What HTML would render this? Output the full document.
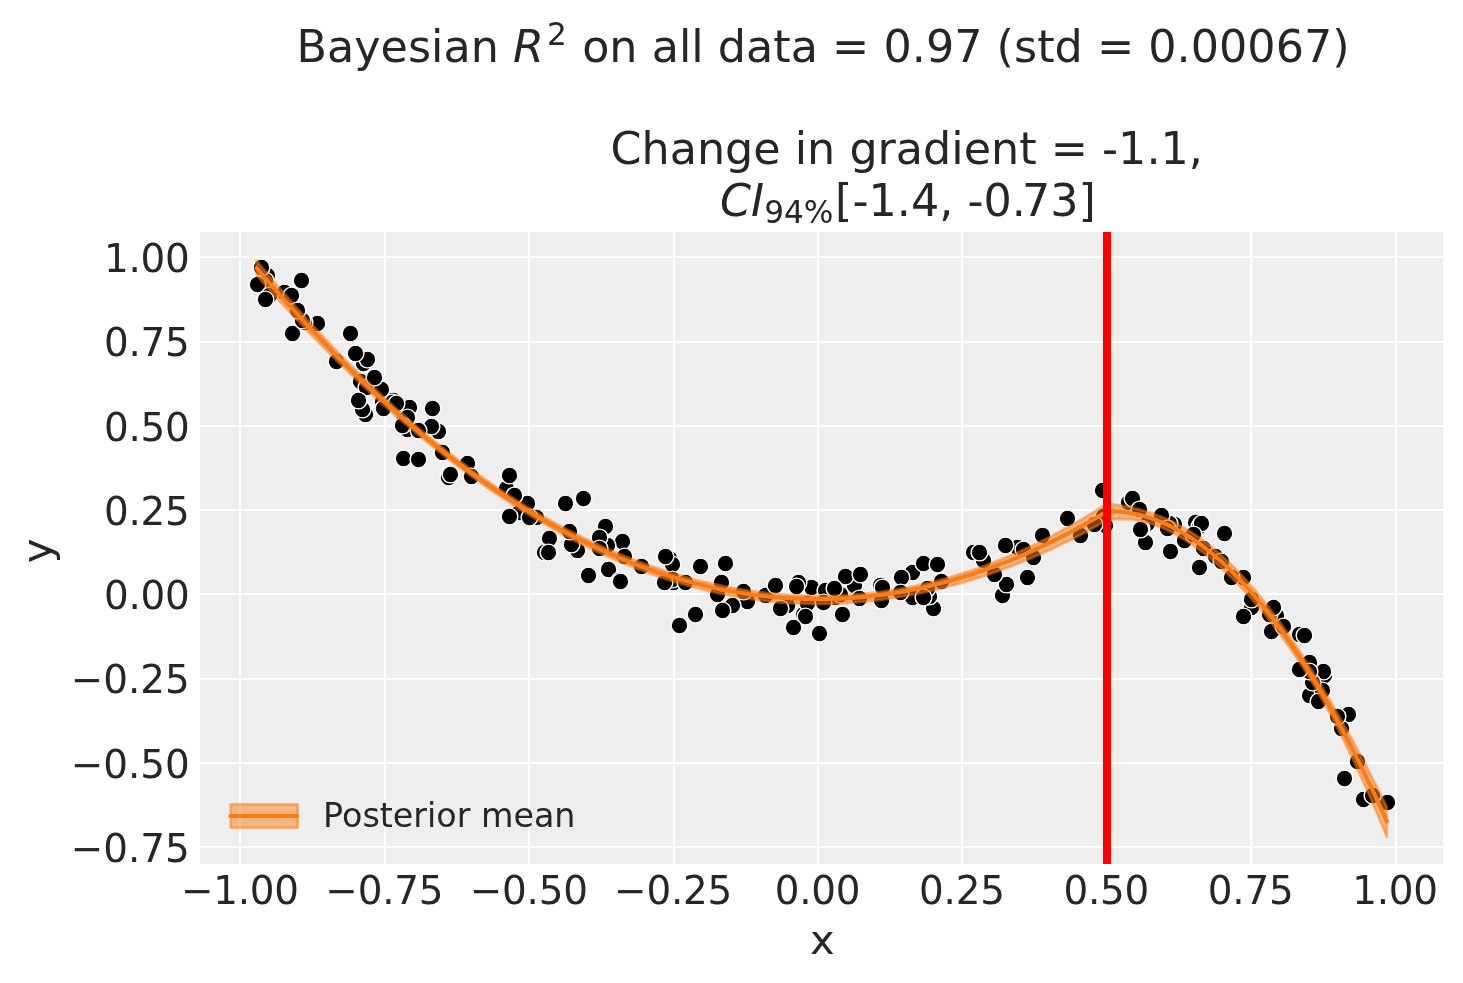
<!DOCTYPE html>
<html lang="en">
<head>
<meta charset="utf-8">
<title>Regression kink: posterior mean fit</title>
<style>
html,body{margin:0;padding:0;background:#ffffff;}
body{width:1463px;height:983px;overflow:hidden;}
svg{display:block;}
text{font-family:'DejaVu Sans', 'Liberation Sans', sans-serif;fill:#262626;}
.t16{font-size:44.444px;}
.t14{font-size:38.889px;}
.t15{font-size:41.667px;}
.t12{font-size:33.333px;}
.sub{font-size:31.111px;}
.it{font-style:oblique;}
.tk{letter-spacing:-0.25px;}
.g{stroke:#ffffff;stroke-width:2.00;fill:none;}
.pt{fill:#000000;stroke:#ffffff;stroke-width:1.450;}
</style>
</head>
<body>
<svg width="1463" height="983" viewBox="0 0 1463 983">
<rect x="0" y="0" width="1463" height="983" fill="#ffffff"/>
<defs><clipPath id="axclip"><rect x="200.00" y="232.00" width="1243.00" height="632.00"/></clipPath></defs>
<rect x="200.00" y="232.00" width="1243.00" height="632.00" fill="#eeeeee"/>
<g clip-path="url(#axclip)" shape-rendering="crispEdges">
<line class="g" x1="240.00" y1="232.00" x2="240.00" y2="864.00"/>
<line class="g" x1="385.00" y1="232.00" x2="385.00" y2="864.00"/>
<line class="g" x1="529.00" y1="232.00" x2="529.00" y2="864.00"/>
<line class="g" x1="674.00" y1="232.00" x2="674.00" y2="864.00"/>
<line class="g" x1="818.00" y1="232.00" x2="818.00" y2="864.00"/>
<line class="g" x1="962.00" y1="232.00" x2="962.00" y2="864.00"/>
<line class="g" x1="1107.00" y1="232.00" x2="1107.00" y2="864.00"/>
<line class="g" x1="1251.00" y1="232.00" x2="1251.00" y2="864.00"/>
<line class="g" x1="1396.00" y1="232.00" x2="1396.00" y2="864.00"/>
<line class="g" x1="200.00" y1="847.00" x2="1443.00" y2="847.00"/>
<line class="g" x1="200.00" y1="763.00" x2="1443.00" y2="763.00"/>
<line class="g" x1="200.00" y1="679.00" x2="1443.00" y2="679.00"/>
<line class="g" x1="200.00" y1="594.00" x2="1443.00" y2="594.00"/>
<line class="g" x1="200.00" y1="510.00" x2="1443.00" y2="510.00"/>
<line class="g" x1="200.00" y1="426.00" x2="1443.00" y2="426.00"/>
<line class="g" x1="200.00" y1="342.00" x2="1443.00" y2="342.00"/>
<line class="g" x1="200.00" y1="257.00" x2="1443.00" y2="257.00"/>
</g>
<g clip-path="url(#axclip)">
<circle class="pt" cx="811.50" cy="587.50" r="8.39"/>
<circle class="pt" cx="622.50" cy="541.50" r="8.39"/>
<circle class="pt" cx="407.50" cy="429.50" r="8.39"/>
<circle class="pt" cx="360.50" cy="381.50" r="8.39"/>
<circle class="pt" cx="919.50" cy="596.50" r="8.39"/>
<circle class="pt" cx="438.50" cy="431.50" r="8.39"/>
<circle class="pt" cx="1309.50" cy="695.50" r="8.39"/>
<circle class="pt" cx="912.50" cy="572.50" r="8.39"/>
<circle class="pt" cx="641.50" cy="566.50" r="8.39"/>
<circle class="pt" cx="923.50" cy="563.50" r="8.39"/>
<circle class="pt" cx="267.50" cy="275.50" r="8.39"/>
<circle class="pt" cx="1348.50" cy="714.50" r="8.39"/>
<circle class="pt" cx="798.50" cy="582.50" r="8.39"/>
<circle class="pt" cx="1145.50" cy="542.50" r="8.39"/>
<circle class="pt" cx="336.50" cy="361.50" r="8.39"/>
<circle class="pt" cx="803.50" cy="614.50" r="8.39"/>
<circle class="pt" cx="807.50" cy="603.50" r="8.39"/>
<circle class="pt" cx="1324.50" cy="675.50" r="8.39"/>
<circle class="pt" cx="901.50" cy="577.50" r="8.39"/>
<circle class="pt" cx="787.50" cy="605.50" r="8.39"/>
<circle class="pt" cx="549.50" cy="538.50" r="8.39"/>
<circle class="pt" cx="624.50" cy="556.50" r="8.39"/>
<circle class="pt" cx="842.50" cy="614.50" r="8.39"/>
<circle class="pt" cx="747.50" cy="601.50" r="8.39"/>
<circle class="pt" cx="265.50" cy="280.50" r="8.39"/>
<circle class="pt" cx="1195.50" cy="522.50" r="8.39"/>
<circle class="pt" cx="1276.50" cy="615.50" r="8.39"/>
<circle class="pt" cx="403.50" cy="458.50" r="8.39"/>
<circle class="pt" cx="880.50" cy="585.50" r="8.39"/>
<circle class="pt" cx="366.50" cy="387.50" r="8.39"/>
<circle class="pt" cx="1017.50" cy="547.50" r="8.39"/>
<circle class="pt" cx="565.50" cy="503.50" r="8.39"/>
<circle class="pt" cx="1002.50" cy="595.50" r="8.39"/>
<circle class="pt" cx="1080.50" cy="535.50" r="8.39"/>
<circle class="pt" cx="1128.50" cy="502.50" r="8.39"/>
<circle class="pt" cx="365.50" cy="414.50" r="8.39"/>
<circle class="pt" cx="1299.50" cy="634.50" r="8.39"/>
<circle class="pt" cx="506.50" cy="490.50" r="8.39"/>
<circle class="pt" cx="284.50" cy="292.50" r="8.39"/>
<circle class="pt" cx="881.50" cy="600.50" r="8.39"/>
<circle class="pt" cx="669.50" cy="558.50" r="8.39"/>
<circle class="pt" cx="1199.50" cy="526.50" r="8.39"/>
<circle class="pt" cx="1174.50" cy="524.50" r="8.39"/>
<circle class="pt" cx="607.50" cy="545.50" r="8.39"/>
<circle class="pt" cx="1341.50" cy="728.50" r="8.39"/>
<circle class="pt" cx="577.50" cy="550.50" r="8.39"/>
<circle class="pt" cx="835.50" cy="597.50" r="8.39"/>
<circle class="pt" cx="536.50" cy="517.50" r="8.39"/>
<circle class="pt" cx="1322.50" cy="690.50" r="8.39"/>
<circle class="pt" cx="431.50" cy="426.50" r="8.39"/>
<circle class="pt" cx="292.50" cy="333.50" r="8.39"/>
<circle class="pt" cx="743.50" cy="591.50" r="8.39"/>
<circle class="pt" cx="1387.50" cy="802.50" r="8.39"/>
<circle class="pt" cx="1271.50" cy="631.50" r="8.39"/>
<circle class="pt" cx="1105.50" cy="525.50" r="8.39"/>
<circle class="pt" cx="1269.50" cy="614.50" r="8.39"/>
<circle class="pt" cx="1273.50" cy="607.50" r="8.39"/>
<circle class="pt" cx="840.50" cy="594.50" r="8.39"/>
<circle class="pt" cx="605.50" cy="526.50" r="8.39"/>
<circle class="pt" cx="1132.50" cy="498.50" r="8.39"/>
<circle class="pt" cx="1005.50" cy="545.50" r="8.39"/>
<circle class="pt" cx="672.50" cy="564.50" r="8.39"/>
<circle class="pt" cx="350.50" cy="333.50" r="8.39"/>
<circle class="pt" cx="1103.50" cy="516.50" r="8.39"/>
<circle class="pt" cx="544.50" cy="552.50" r="8.39"/>
<circle class="pt" cx="1323.50" cy="671.50" r="8.39"/>
<circle class="pt" cx="519.50" cy="512.50" r="8.39"/>
<circle class="pt" cx="382.50" cy="401.50" r="8.39"/>
<circle class="pt" cx="1201.50" cy="523.50" r="8.39"/>
<circle class="pt" cx="418.50" cy="459.50" r="8.39"/>
<circle class="pt" cx="448.50" cy="477.50" r="8.39"/>
<circle class="pt" cx="933.50" cy="608.50" r="8.39"/>
<circle class="pt" cx="1251.50" cy="607.50" r="8.39"/>
<circle class="pt" cx="467.50" cy="463.50" r="8.39"/>
<circle class="pt" cx="599.50" cy="537.50" r="8.39"/>
<circle class="pt" cx="1139.50" cy="509.50" r="8.39"/>
<circle class="pt" cx="1363.50" cy="799.50" r="8.39"/>
<circle class="pt" cx="819.50" cy="633.50" r="8.39"/>
<circle class="pt" cx="407.50" cy="422.50" r="8.39"/>
<circle class="pt" cx="257.50" cy="284.50" r="8.39"/>
<circle class="pt" cx="506.50" cy="488.50" r="8.39"/>
<circle class="pt" cx="393.50" cy="400.50" r="8.39"/>
<circle class="pt" cx="1023.50" cy="549.50" r="8.39"/>
<circle class="pt" cx="381.50" cy="389.50" r="8.39"/>
<circle class="pt" cx="825.50" cy="590.50" r="8.39"/>
<circle class="pt" cx="1042.50" cy="535.50" r="8.39"/>
<circle class="pt" cx="912.50" cy="597.50" r="8.39"/>
<circle class="pt" cx="471.50" cy="476.50" r="8.39"/>
<circle class="pt" cx="1169.50" cy="523.50" r="8.39"/>
<circle class="pt" cx="1067.50" cy="518.50" r="8.39"/>
<circle class="pt" cx="1094.50" cy="524.50" r="8.39"/>
<circle class="pt" cx="392.50" cy="402.50" r="8.39"/>
<circle class="pt" cx="383.50" cy="408.50" r="8.39"/>
<circle class="pt" cx="1312.50" cy="682.50" r="8.39"/>
<circle class="pt" cx="700.50" cy="566.50" r="8.39"/>
<circle class="pt" cx="588.50" cy="575.50" r="8.39"/>
<circle class="pt" cx="805.50" cy="616.50" r="8.39"/>
<circle class="pt" cx="1006.50" cy="584.50" r="8.39"/>
<circle class="pt" cx="1344.50" cy="778.50" r="8.39"/>
<circle class="pt" cx="571.50" cy="544.50" r="8.39"/>
<circle class="pt" cx="1309.50" cy="662.50" r="8.39"/>
<circle class="pt" cx="269.50" cy="295.50" r="8.39"/>
<circle class="pt" cx="882.50" cy="587.50" r="8.39"/>
<circle class="pt" cx="973.50" cy="552.50" r="8.39"/>
<circle class="pt" cx="363.50" cy="363.50" r="8.39"/>
<circle class="pt" cx="403.50" cy="421.50" r="8.39"/>
<circle class="pt" cx="725.50" cy="563.50" r="8.39"/>
<circle class="pt" cx="1357.50" cy="761.50" r="8.39"/>
<circle class="pt" cx="929.50" cy="596.50" r="8.39"/>
<circle class="pt" cx="1318.50" cy="701.50" r="8.39"/>
<circle class="pt" cx="1170.50" cy="551.50" r="8.39"/>
<circle class="pt" cx="780.50" cy="608.50" r="8.39"/>
<circle class="pt" cx="1147.50" cy="523.50" r="8.39"/>
<circle class="pt" cx="261.50" cy="267.50" r="8.39"/>
<circle class="pt" cx="367.50" cy="359.50" r="8.39"/>
<circle class="pt" cx="1199.50" cy="567.50" r="8.39"/>
<circle class="pt" cx="1161.50" cy="515.50" r="8.39"/>
<circle class="pt" cx="509.50" cy="516.50" r="8.39"/>
<circle class="pt" cx="854.50" cy="585.50" r="8.39"/>
<circle class="pt" cx="941.50" cy="581.50" r="8.39"/>
<circle class="pt" cx="1243.50" cy="616.50" r="8.39"/>
<circle class="pt" cx="937.50" cy="564.50" r="8.39"/>
<circle class="pt" cx="717.50" cy="594.50" r="8.39"/>
<circle class="pt" cx="673.50" cy="582.50" r="8.39"/>
<circle class="pt" cx="732.50" cy="605.50" r="8.39"/>
<circle class="pt" cx="994.50" cy="574.50" r="8.39"/>
<circle class="pt" cx="1243.50" cy="577.50" r="8.39"/>
<circle class="pt" cx="765.50" cy="595.50" r="8.39"/>
<circle class="pt" cx="527.50" cy="503.50" r="8.39"/>
<circle class="pt" cx="514.50" cy="495.50" r="8.39"/>
<circle class="pt" cx="1102.50" cy="490.50" r="8.39"/>
<circle class="pt" cx="1184.50" cy="540.50" r="8.39"/>
<circle class="pt" cx="362.50" cy="409.50" r="8.39"/>
<circle class="pt" cx="317.50" cy="323.50" r="8.39"/>
<circle class="pt" cx="927.50" cy="588.50" r="8.39"/>
<circle class="pt" cx="409.50" cy="407.50" r="8.39"/>
<circle class="pt" cx="1193.50" cy="534.50" r="8.39"/>
<circle class="pt" cx="599.50" cy="548.50" r="8.39"/>
<circle class="pt" cx="407.50" cy="417.50" r="8.39"/>
<circle class="pt" cx="1304.50" cy="635.50" r="8.39"/>
<circle class="pt" cx="432.50" cy="408.50" r="8.39"/>
<circle class="pt" cx="569.50" cy="531.50" r="8.39"/>
<circle class="pt" cx="418.50" cy="430.50" r="8.39"/>
<circle class="pt" cx="374.50" cy="377.50" r="8.39"/>
<circle class="pt" cx="265.50" cy="299.50" r="8.39"/>
<circle class="pt" cx="304.50" cy="322.50" r="8.39"/>
<circle class="pt" cx="442.50" cy="452.50" r="8.39"/>
<circle class="pt" cx="302.50" cy="320.50" r="8.39"/>
<circle class="pt" cx="923.50" cy="597.50" r="8.39"/>
<circle class="pt" cx="1027.50" cy="577.50" r="8.39"/>
<circle class="pt" cx="695.50" cy="614.50" r="8.39"/>
<circle class="pt" cx="608.50" cy="569.50" r="8.39"/>
<circle class="pt" cx="823.50" cy="602.50" r="8.39"/>
<circle class="pt" cx="1251.50" cy="599.50" r="8.39"/>
<circle class="pt" cx="1224.50" cy="533.50" r="8.39"/>
<circle class="pt" cx="291.50" cy="295.50" r="8.39"/>
<circle class="pt" cx="450.50" cy="474.50" r="8.39"/>
<circle class="pt" cx="514.50" cy="495.50" r="8.39"/>
<circle class="pt" cx="529.50" cy="517.50" r="8.39"/>
<circle class="pt" cx="900.50" cy="592.50" r="8.39"/>
<circle class="pt" cx="721.50" cy="582.50" r="8.39"/>
<circle class="pt" cx="297.50" cy="310.50" r="8.39"/>
<circle class="pt" cx="672.50" cy="579.50" r="8.39"/>
<circle class="pt" cx="845.50" cy="576.50" r="8.39"/>
<circle class="pt" cx="358.50" cy="400.50" r="8.39"/>
<circle class="pt" cx="1203.50" cy="548.50" r="8.39"/>
<circle class="pt" cx="301.50" cy="280.50" r="8.39"/>
<circle class="pt" cx="1309.50" cy="671.50" r="8.39"/>
<circle class="pt" cx="355.50" cy="353.50" r="8.39"/>
<circle class="pt" cx="1215.50" cy="556.50" r="8.39"/>
<circle class="pt" cx="1283.50" cy="626.50" r="8.39"/>
<circle class="pt" cx="1372.50" cy="795.50" r="8.39"/>
<circle class="pt" cx="1167.50" cy="528.50" r="8.39"/>
<circle class="pt" cx="1141.50" cy="528.50" r="8.39"/>
<circle class="pt" cx="983.50" cy="560.50" r="8.39"/>
<circle class="pt" cx="1140.50" cy="529.50" r="8.39"/>
<circle class="pt" cx="396.50" cy="403.50" r="8.39"/>
<circle class="pt" cx="860.50" cy="574.50" r="8.39"/>
<circle class="pt" cx="834.50" cy="588.50" r="8.39"/>
<circle class="pt" cx="1231.50" cy="577.50" r="8.39"/>
<circle class="pt" cx="775.50" cy="585.50" r="8.39"/>
<circle class="pt" cx="685.50" cy="582.50" r="8.39"/>
<circle class="pt" cx="979.50" cy="552.50" r="8.39"/>
<circle class="pt" cx="548.50" cy="552.50" r="8.39"/>
<circle class="pt" cx="402.50" cy="425.50" r="8.39"/>
<circle class="pt" cx="793.50" cy="627.50" r="8.39"/>
<circle class="pt" cx="722.50" cy="610.50" r="8.39"/>
<circle class="pt" cx="509.50" cy="475.50" r="8.39"/>
<circle class="pt" cx="665.50" cy="556.50" r="8.39"/>
<circle class="pt" cx="664.50" cy="582.50" r="8.39"/>
<circle class="pt" cx="619.50" cy="580.50" r="8.39"/>
<circle class="pt" cx="679.50" cy="625.50" r="8.39"/>
<circle class="pt" cx="1033.50" cy="557.50" r="8.39"/>
<circle class="pt" cx="583.50" cy="498.50" r="8.39"/>
<circle class="pt" cx="1337.50" cy="716.50" r="8.39"/>
<circle class="pt" cx="1299.50" cy="669.50" r="8.39"/>
<circle class="pt" cx="796.50" cy="586.50" r="8.39"/>
<circle class="pt" cx="620.50" cy="581.50" r="8.39"/>
<circle class="pt" cx="859.50" cy="598.50" r="8.39"/>
<circle class="pt" cx="1221.50" cy="561.50" r="8.39"/>
</g>
<g clip-path="url(#axclip)">
<polygon points="256.59,260.89 262.27,267.75 267.95,274.54 273.63,281.25 279.31,287.90 284.99,294.47 290.67,300.97 296.35,307.40 302.03,313.75 307.71,320.03 313.39,326.24 319.07,332.38 324.75,338.44 330.43,344.43 336.11,350.35 341.79,356.20 347.46,361.97 353.14,367.67 358.82,373.29 364.50,378.84 370.18,384.32 375.86,389.72 381.54,395.05 387.22,400.31 392.90,405.49 398.58,410.60 404.26,415.64 409.94,420.60 415.62,425.49 421.30,430.30 426.98,435.04 432.66,439.71 438.34,444.31 444.02,448.83 449.70,453.28 455.38,457.66 461.06,461.96 466.74,466.20 472.41,470.36 478.09,474.45 483.77,478.47 489.45,482.42 495.13,486.30 500.81,490.11 506.49,493.85 512.17,497.51 517.85,501.11 523.53,504.65 529.21,508.11 534.89,511.50 540.57,514.82 546.25,518.08 551.93,521.27 557.61,524.39 563.29,527.44 568.97,530.43 574.65,533.34 580.33,536.19 586.01,538.98 591.69,541.69 597.36,544.34 603.04,546.92 608.72,549.43 614.40,551.88 620.08,554.26 625.76,556.58 631.44,558.82 637.12,561.00 642.80,563.12 648.48,565.17 654.16,567.17 659.84,569.10 665.52,570.96 671.20,572.75 676.88,574.48 682.56,576.14 688.24,577.74 693.92,579.27 699.60,580.73 705.28,582.12 710.96,583.45 716.64,584.71 722.31,585.91 727.99,587.04 733.67,588.10 739.35,589.10 745.03,590.02 750.71,590.89 756.39,591.68 762.07,592.41 767.75,593.07 773.43,593.66 779.11,594.18 784.79,594.64 790.47,595.03 796.15,595.35 801.83,595.61 807.51,595.79 813.19,595.91 818.87,595.96 824.55,595.92 830.23,595.82 835.91,595.65 841.59,595.41 847.26,595.10 852.94,594.72 858.62,594.27 864.30,593.75 869.98,593.16 875.66,592.50 881.34,591.76 887.02,590.96 892.70,590.08 898.38,589.14 904.06,588.12 909.74,587.02 915.42,585.86 921.10,584.62 926.78,583.31 932.46,581.93 938.14,580.48 943.82,578.95 949.50,577.35 955.18,575.67 960.86,573.92 966.54,572.10 972.21,570.21 977.89,568.24 983.57,566.20 989.25,564.08 994.93,561.90 1000.61,559.64 1006.29,557.30 1011.97,554.89 1017.65,552.41 1023.33,549.86 1029.01,547.23 1034.69,544.54 1040.37,541.76 1046.05,538.92 1051.73,536.00 1057.41,533.02 1063.09,529.95 1068.77,526.82 1074.45,523.61 1080.13,520.33 1085.81,516.95 1091.48,513.50 1097.16,509.98 1102.84,506.39 1108.52,503.97 1114.20,504.61 1119.88,505.43 1125.56,506.43 1131.24,507.59 1136.92,508.94 1142.60,510.45 1148.28,512.15 1153.96,514.04 1159.64,516.14 1165.32,518.46 1171.00,521.04 1176.68,523.85 1182.36,526.92 1188.04,530.24 1193.72,533.84 1199.40,537.70 1205.08,541.84 1210.76,546.26 1216.43,550.96 1222.11,555.94 1227.79,561.21 1233.47,566.75 1239.15,572.58 1244.83,578.69 1250.51,585.08 1256.19,591.74 1261.87,598.68 1267.55,605.89 1273.23,613.36 1278.91,621.09 1284.59,629.06 1290.27,637.28 1295.95,645.73 1301.63,654.39 1307.31,663.26 1312.99,672.33 1318.67,681.58 1324.35,691.02 1330.03,700.64 1335.71,710.43 1341.38,720.40 1347.06,730.56 1352.74,740.90 1358.42,751.44 1364.10,762.17 1369.78,773.10 1375.46,784.23 1381.14,795.56 1386.82,807.10 1386.82,836.68 1381.14,822.94 1375.46,809.51 1369.78,796.40 1364.10,783.60 1358.42,771.13 1352.74,758.99 1347.06,747.18 1341.38,735.71 1335.71,724.61 1330.03,713.93 1324.35,703.59 1318.67,693.60 1312.99,683.94 1307.31,674.62 1301.63,665.62 1295.95,656.94 1290.27,648.56 1284.59,640.47 1278.91,632.67 1273.23,625.13 1267.55,617.87 1261.87,610.86 1256.19,604.10 1250.51,597.59 1244.83,591.32 1239.15,585.30 1233.47,579.51 1227.79,573.97 1222.11,568.67 1216.43,563.60 1210.76,558.77 1205.08,554.19 1199.40,549.85 1193.72,545.75 1188.04,541.90 1182.36,538.31 1176.68,534.98 1171.00,531.92 1165.32,529.14 1159.64,526.72 1153.96,524.61 1148.28,522.82 1142.60,521.36 1136.92,520.23 1131.24,519.45 1125.56,519.02 1119.88,518.94 1114.20,519.20 1108.52,519.81 1102.84,522.38 1097.16,525.63 1091.48,528.82 1085.81,531.94 1080.13,535.00 1074.45,537.95 1068.77,540.81 1063.09,543.60 1057.41,546.33 1051.73,548.99 1046.05,551.59 1040.37,554.13 1034.69,556.60 1029.01,559.02 1023.33,561.37 1017.65,563.65 1011.97,565.88 1006.29,568.04 1000.61,570.13 994.93,572.17 989.25,574.14 983.57,576.06 977.89,577.90 972.21,579.69 966.54,581.41 960.86,583.08 955.18,584.67 949.50,586.21 943.82,587.69 938.14,589.10 932.46,590.45 926.78,591.73 921.10,592.96 915.42,594.12 909.74,595.22 904.06,596.25 898.38,597.22 892.70,598.13 887.02,598.97 881.34,599.75 875.66,600.47 869.98,601.12 864.30,601.70 858.62,602.23 852.94,602.68 847.26,603.07 841.59,603.39 835.91,603.65 830.23,603.84 824.55,603.97 818.87,604.03 813.19,603.98 807.51,603.87 801.83,603.69 796.15,603.44 790.47,603.12 784.79,602.74 779.11,602.28 773.43,601.76 767.75,601.17 762.07,600.51 756.39,599.79 750.71,598.99 745.03,598.13 739.35,597.20 733.67,596.20 727.99,595.13 722.31,593.99 716.64,592.78 710.96,591.51 705.28,590.16 699.60,588.75 693.92,587.26 688.24,585.71 682.56,584.09 676.88,582.40 671.20,580.64 665.52,578.81 659.84,576.91 654.16,574.95 648.48,572.91 642.80,570.82 637.12,568.68 631.44,566.48 625.76,564.20 620.08,561.86 614.40,559.45 608.72,556.97 603.04,554.42 597.36,551.80 591.69,549.12 586.01,546.36 580.33,543.54 574.65,540.65 568.97,537.69 563.29,534.66 557.61,531.56 551.93,528.40 546.25,525.16 540.57,521.87 534.89,518.50 529.21,515.06 523.53,511.56 517.85,508.00 512.17,504.36 506.49,500.66 500.81,496.89 495.13,493.06 489.45,489.17 483.77,485.20 478.09,481.17 472.41,477.08 466.74,472.92 461.06,468.70 455.38,464.42 449.70,460.07 444.02,455.66 438.34,451.18 432.66,446.65 426.98,442.05 421.30,437.38 415.62,432.66 409.94,427.87 404.26,423.02 398.58,418.11 392.90,413.14 387.22,408.10 381.54,403.00 375.86,397.84 370.18,392.62 364.50,387.34 358.82,381.99 353.14,376.58 347.46,371.11 341.79,365.58 336.11,359.99 330.43,354.33 324.75,348.61 319.07,342.83 313.39,336.98 307.71,331.07 302.03,325.10 296.35,319.07 290.67,312.97 284.99,306.81 279.31,300.59 273.63,294.30 267.95,287.95 262.27,281.53 256.59,275.06" fill="#fa7c17" fill-opacity="0.50" stroke="#fa7c17" stroke-opacity="0.50" stroke-width="2.78" stroke-linejoin="round"/>
<polyline points="256.59,267.97 262.27,274.64 267.95,281.24 273.63,287.78 279.31,294.24 284.99,300.64 290.67,306.97 296.35,313.23 302.03,319.43 307.71,325.55 313.39,331.61 319.07,337.60 324.75,343.53 330.43,349.38 336.11,355.17 341.79,360.89 347.46,366.54 353.14,372.13 358.82,377.64 364.50,383.09 370.18,388.47 375.86,393.78 381.54,399.03 387.22,404.20 392.90,409.31 398.58,414.36 404.26,419.33 409.94,424.23 415.62,429.07 421.30,433.84 426.98,438.54 432.66,443.18 438.34,447.75 444.02,452.24 449.70,456.68 455.38,461.04 461.06,465.33 466.74,469.56 472.41,473.72 478.09,477.81 483.77,481.84 489.45,485.79 495.13,489.68 500.81,493.50 506.49,497.25 512.17,500.94 517.85,504.56 523.53,508.10 529.21,511.59 534.89,515.00 540.57,518.34 546.25,521.62 551.93,524.83 557.61,527.97 563.29,531.05 568.97,534.06 574.65,536.99 580.33,539.87 586.01,542.67 591.69,545.40 597.36,548.07 603.04,550.67 608.72,553.20 614.40,555.67 620.08,558.06 625.76,560.39 631.44,562.65 637.12,564.84 642.80,566.97 648.48,569.02 654.16,571.01 659.84,572.93 665.52,574.79 671.20,576.57 676.88,578.29 682.56,579.94 688.24,581.52 693.92,583.04 699.60,584.48 705.28,585.86 710.96,587.17 716.64,588.42 722.31,589.59 727.99,590.70 733.67,591.74 739.35,592.71 745.03,593.61 750.71,594.45 756.39,595.22 762.07,595.92 767.75,596.55 773.43,597.12 779.11,597.61 784.79,598.04 790.47,598.40 796.15,598.70 801.83,598.92 807.51,599.08 813.19,599.17 818.87,599.19 824.55,599.15 830.23,599.03 835.91,598.85 841.59,598.60 847.26,598.28 852.94,597.90 858.62,597.45 864.30,596.93 869.98,596.34 875.66,595.68 881.34,594.96 887.02,594.17 892.70,593.31 898.38,592.38 904.06,591.38 909.74,590.32 915.42,589.19 921.10,587.99 926.78,586.72 932.46,585.39 938.14,583.99 943.82,582.52 949.50,580.98 955.18,579.37 960.86,577.70 966.54,575.96 972.21,574.15 977.89,572.27 983.57,570.33 989.25,568.31 994.93,566.23 1000.61,564.08 1006.29,561.87 1011.97,559.58 1017.65,557.23 1023.33,554.81 1029.01,552.33 1034.69,549.77 1040.37,547.15 1046.05,544.46 1051.73,541.70 1057.41,538.87 1063.09,535.98 1068.77,533.01 1074.45,529.98 1080.13,526.88 1085.81,523.72 1091.48,520.49 1097.16,517.18 1102.84,513.81 1108.52,511.37 1114.20,511.44 1119.88,511.77 1125.56,512.36 1131.24,513.21 1136.92,514.33 1142.60,515.70 1148.28,517.34 1153.96,519.23 1159.64,521.39 1165.32,523.80 1171.00,526.48 1176.68,529.42 1182.36,532.62 1188.04,536.07 1193.72,539.79 1199.40,543.77 1205.08,548.02 1210.76,552.52 1216.43,557.28 1222.11,562.30 1227.79,567.59 1233.47,573.13 1239.15,578.94 1244.83,585.00 1250.51,591.33 1256.19,597.92 1261.87,604.77 1267.55,611.88 1273.23,619.25 1278.91,626.88 1284.59,634.77 1290.27,642.92 1295.95,651.33 1301.63,660.01 1307.31,668.94 1312.99,678.13 1318.67,687.59 1324.35,697.31 1330.03,707.28 1335.71,717.52 1341.38,728.02 1347.06,738.78 1352.74,749.80 1358.42,761.08 1364.10,772.62 1369.78,784.42 1375.46,796.48 1381.14,808.81 1386.82,821.39" fill="none" stroke="#fa7c17" stroke-width="4.17" stroke-linecap="round" stroke-linejoin="round"/>
<line x1="1107.00" y1="232.00" x2="1107.00" y2="864.00" stroke="#ff0000" stroke-width="8.00" shape-rendering="crispEdges"/>
</g>
<rect x="230.70" y="804.35" width="66.90" height="23.30" fill="#fa7c17" fill-opacity="0.50" stroke="#fa7c17" stroke-opacity="0.50" stroke-width="2.78"/>
<line x1="230.40" y1="816.00" x2="296.90" y2="816.00" stroke="#fa7c17" stroke-width="4.17" stroke-linecap="round"/>
<text class="t12" x="323.10" y="826.60">Posterior mean</text>
<text class="t14 tk" text-anchor="middle" x="239.89" y="903.70">−1.00</text>
<text class="t14 tk" text-anchor="middle" x="384.29" y="903.70">−0.75</text>
<text class="t14 tk" text-anchor="middle" x="528.68" y="903.70">−0.50</text>
<text class="t14 tk" text-anchor="middle" x="673.07" y="903.70">−0.25</text>
<text class="t14 tk" text-anchor="middle" x="817.46" y="903.70">0.00</text>
<text class="t14 tk" text-anchor="middle" x="961.85" y="903.70">0.25</text>
<text class="t14 tk" text-anchor="middle" x="1106.24" y="903.70">0.50</text>
<text class="t14 tk" text-anchor="middle" x="1250.64" y="903.70">0.75</text>
<text class="t14 tk" text-anchor="middle" x="1395.03" y="903.70">1.00</text>
<text class="t14" text-anchor="end" x="189.85" y="862.03">−0.75</text>
<text class="t14" text-anchor="end" x="189.85" y="777.74">−0.50</text>
<text class="t14" text-anchor="end" x="189.85" y="693.46">−0.25</text>
<text class="t14 tk" text-anchor="end" x="189.60" y="609.17">0.00</text>
<text class="t14 tk" text-anchor="end" x="189.60" y="524.88">0.25</text>
<text class="t14 tk" text-anchor="end" x="189.60" y="440.59">0.50</text>
<text class="t14 tk" text-anchor="end" x="189.60" y="356.31">0.75</text>
<text class="t14 tk" text-anchor="end" x="189.60" y="272.02">1.00</text>
<text class="t15" text-anchor="middle" x="822.30" y="954.30">x</text>
<text class="t15" text-anchor="middle" transform="translate(50.50 550.90) rotate(-90)">y</text>
<text class="t16" x="296.60" y="61.60">Bayesian <tspan class="it" x="513.01">R</tspan><tspan class="sub" x="547.01" y="44.59">2</tspan><tspan x="582.15" y="61.60" letter-spacing="0.016">on all data = 0.97 (std = 0.00067)</tspan></text>
<text class="t16" x="610.50" y="163.90">Change in gradient = -1.1,</text>
<text class="t16" x="720.10" y="215.80"><tspan class="it">CI</tspan><tspan class="sub" x="764.24" y="223.09">94%</tspan><tspan x="835.11" y="215.80">[-1.4, -0.</tspan><tspan x="1021.89">73]</tspan></text>
</svg>
</body>
</html>
